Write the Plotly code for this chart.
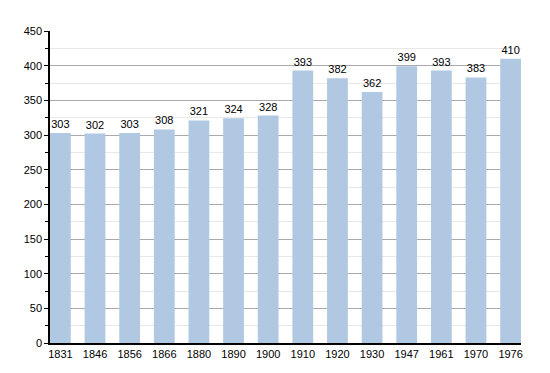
import plotly.graph_objects as go

years = ["1831", "1846", "1856", "1866", "1880", "1890", "1900", "1910", "1920", "1930", "1947", "1961", "1970", "1976"]
population = [303, 302, 303, 308, 321, 324, 328, 393, 382, 362, 399, 393, 383, 410]
y_ticks = [0, 50, 100, 150, 200, 250, 300, 350, 400, 450]

fig = go.Figure()
fig.add_trace(go.Bar(
    x=list(range(len(years))), y=population,
    marker=dict(color="#b0c8e2", line=dict(width=0)),
    width=0.6,
    text=[str(v) for v in population], textposition="outside",
    textfont=dict(family="Liberation Sans, Arial, sans-serif", size=11, color="#000"),
    cliponaxis=False,
))
fig.update_layout(
    width=550, height=373,
    margin=dict(l=42, r=37, t=23, b=38),
    plot_bgcolor="white", paper_bgcolor="white",
    showlegend=False,
    font=dict(family="Liberation Sans, Arial, sans-serif", size=11, color="#000"),
    bargap=0.4,
)
fig.update_xaxes(
    tickmode="array", tickvals=list(range(len(years))), ticktext=years,
    range=[-0.3, len(years) - 0.7],
    showline=True, linecolor="black", linewidth=1.5,
    showgrid=False, ticks="", tickfont=dict(size=11),
)
fig.update_yaxes(
    range=[0, 450], tickvals=y_ticks,
    showline=True, linecolor="black", linewidth=1.5,
    gridcolor="#aaaaaa", gridwidth=1,
    ticks="outside", ticklen=4, tickcolor="black",
    minor=dict(dtick=25, showgrid=True, gridcolor="#e8e8e8", ticks="outside", ticklen=3, tickcolor="black"),
    tickfont=dict(size=11), zeroline=False,
)
fig.write_html("out.html")
